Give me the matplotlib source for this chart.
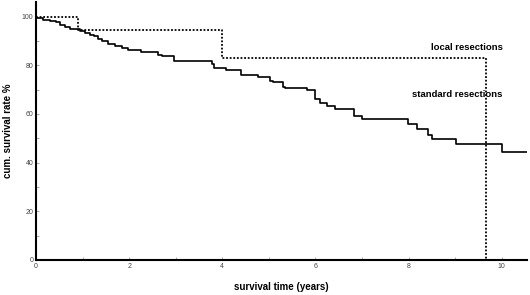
import numpy as np
import matplotlib.pyplot as plt

plt.rcParams['font.family'] = ['Liberation Sans', 'DejaVu Sans']

# standard resections (Kaplan-Meier steps)
std_t = [0, 0.15, 0.3, 0.42, 0.52, 0.62, 0.72, 0.95, 1.05, 1.15, 1.25, 1.33,
         1.42, 1.55, 1.7, 1.85, 1.97, 2.25, 2.62, 2.7, 2.97, 3.77, 3.82, 4.08,
         4.41, 4.77, 5.02, 5.08, 5.3, 5.35, 5.82, 6.0, 6.1, 6.25, 6.43, 6.82,
         7.0, 7.98, 8.18, 8.41, 8.51, 9.01, 10.0, 10.55]
std_s = [99.3, 98.8, 98.2, 97.7, 96.7, 95.8, 95.0, 94.2, 93.3, 92.6, 91.9, 90.8,
         89.8, 88.8, 87.9, 87.0, 86.2, 85.4, 84.3, 83.7, 81.9, 80.7, 78.9, 77.9,
         76.0, 75.0, 73.7, 73.0, 71.1, 70.6, 70.0, 66.1, 64.6, 63.1, 62.0, 59.0,
         57.9, 56.0, 53.8, 51.4, 49.7, 47.6, 44.2, 44.2]

# local resections
loc_t = [0, 0.9, 4.0, 9.67, 9.67]
loc_s = [100, 94.7, 83.1, 83.1, 0]

fig = plt.figure(figsize=(5.3, 2.95), dpi=100)
ax = fig.add_axes([0.068, 0.119, 0.926, 0.874])

ax.step(std_t, std_s, where='post', color='black', lw=1.2)
ax.step(loc_t, loc_s, where='post', color='black', lw=1.3, linestyle=(0, (1, 1)))

ax.text(10.02, 87.2, 'local resections', ha='right', va='center',
        fontsize=6.8, fontweight='bold')
ax.text(10.02, 67.9, 'standard resections', ha='right', va='center',
        fontsize=6.8, fontweight='bold')

ax.set_xlim(0, 10.54)
ax.set_ylim(0, 106)
ax.set_xticks([0, 2, 4, 6, 8, 10])
ax.set_xticks([1, 3, 5, 7, 9], minor=True)
ax.set_yticks([0, 20, 40, 60, 80, 100])
ax.set_yticks([10, 30, 50, 70, 90], minor=True)
ax.tick_params(which='both', direction='in', length=2.5, width=0.6,
               color='#999999', labelsize=5, labelcolor='#444444', pad=2)

for side in ['top', 'right']:
    ax.spines[side].set_visible(False)
for side in ['left', 'bottom']:
    ax.spines[side].set_linewidth(1.5)

ax.set_xlabel('survival time (years)', fontsize=7, fontweight='bold', labelpad=9)
ax.set_ylabel('cum. survival rate %', fontsize=7, fontweight='bold')
ax.yaxis.set_label_coords(-0.047, 0.5)

fig.savefig('out.png', dpi=100)
